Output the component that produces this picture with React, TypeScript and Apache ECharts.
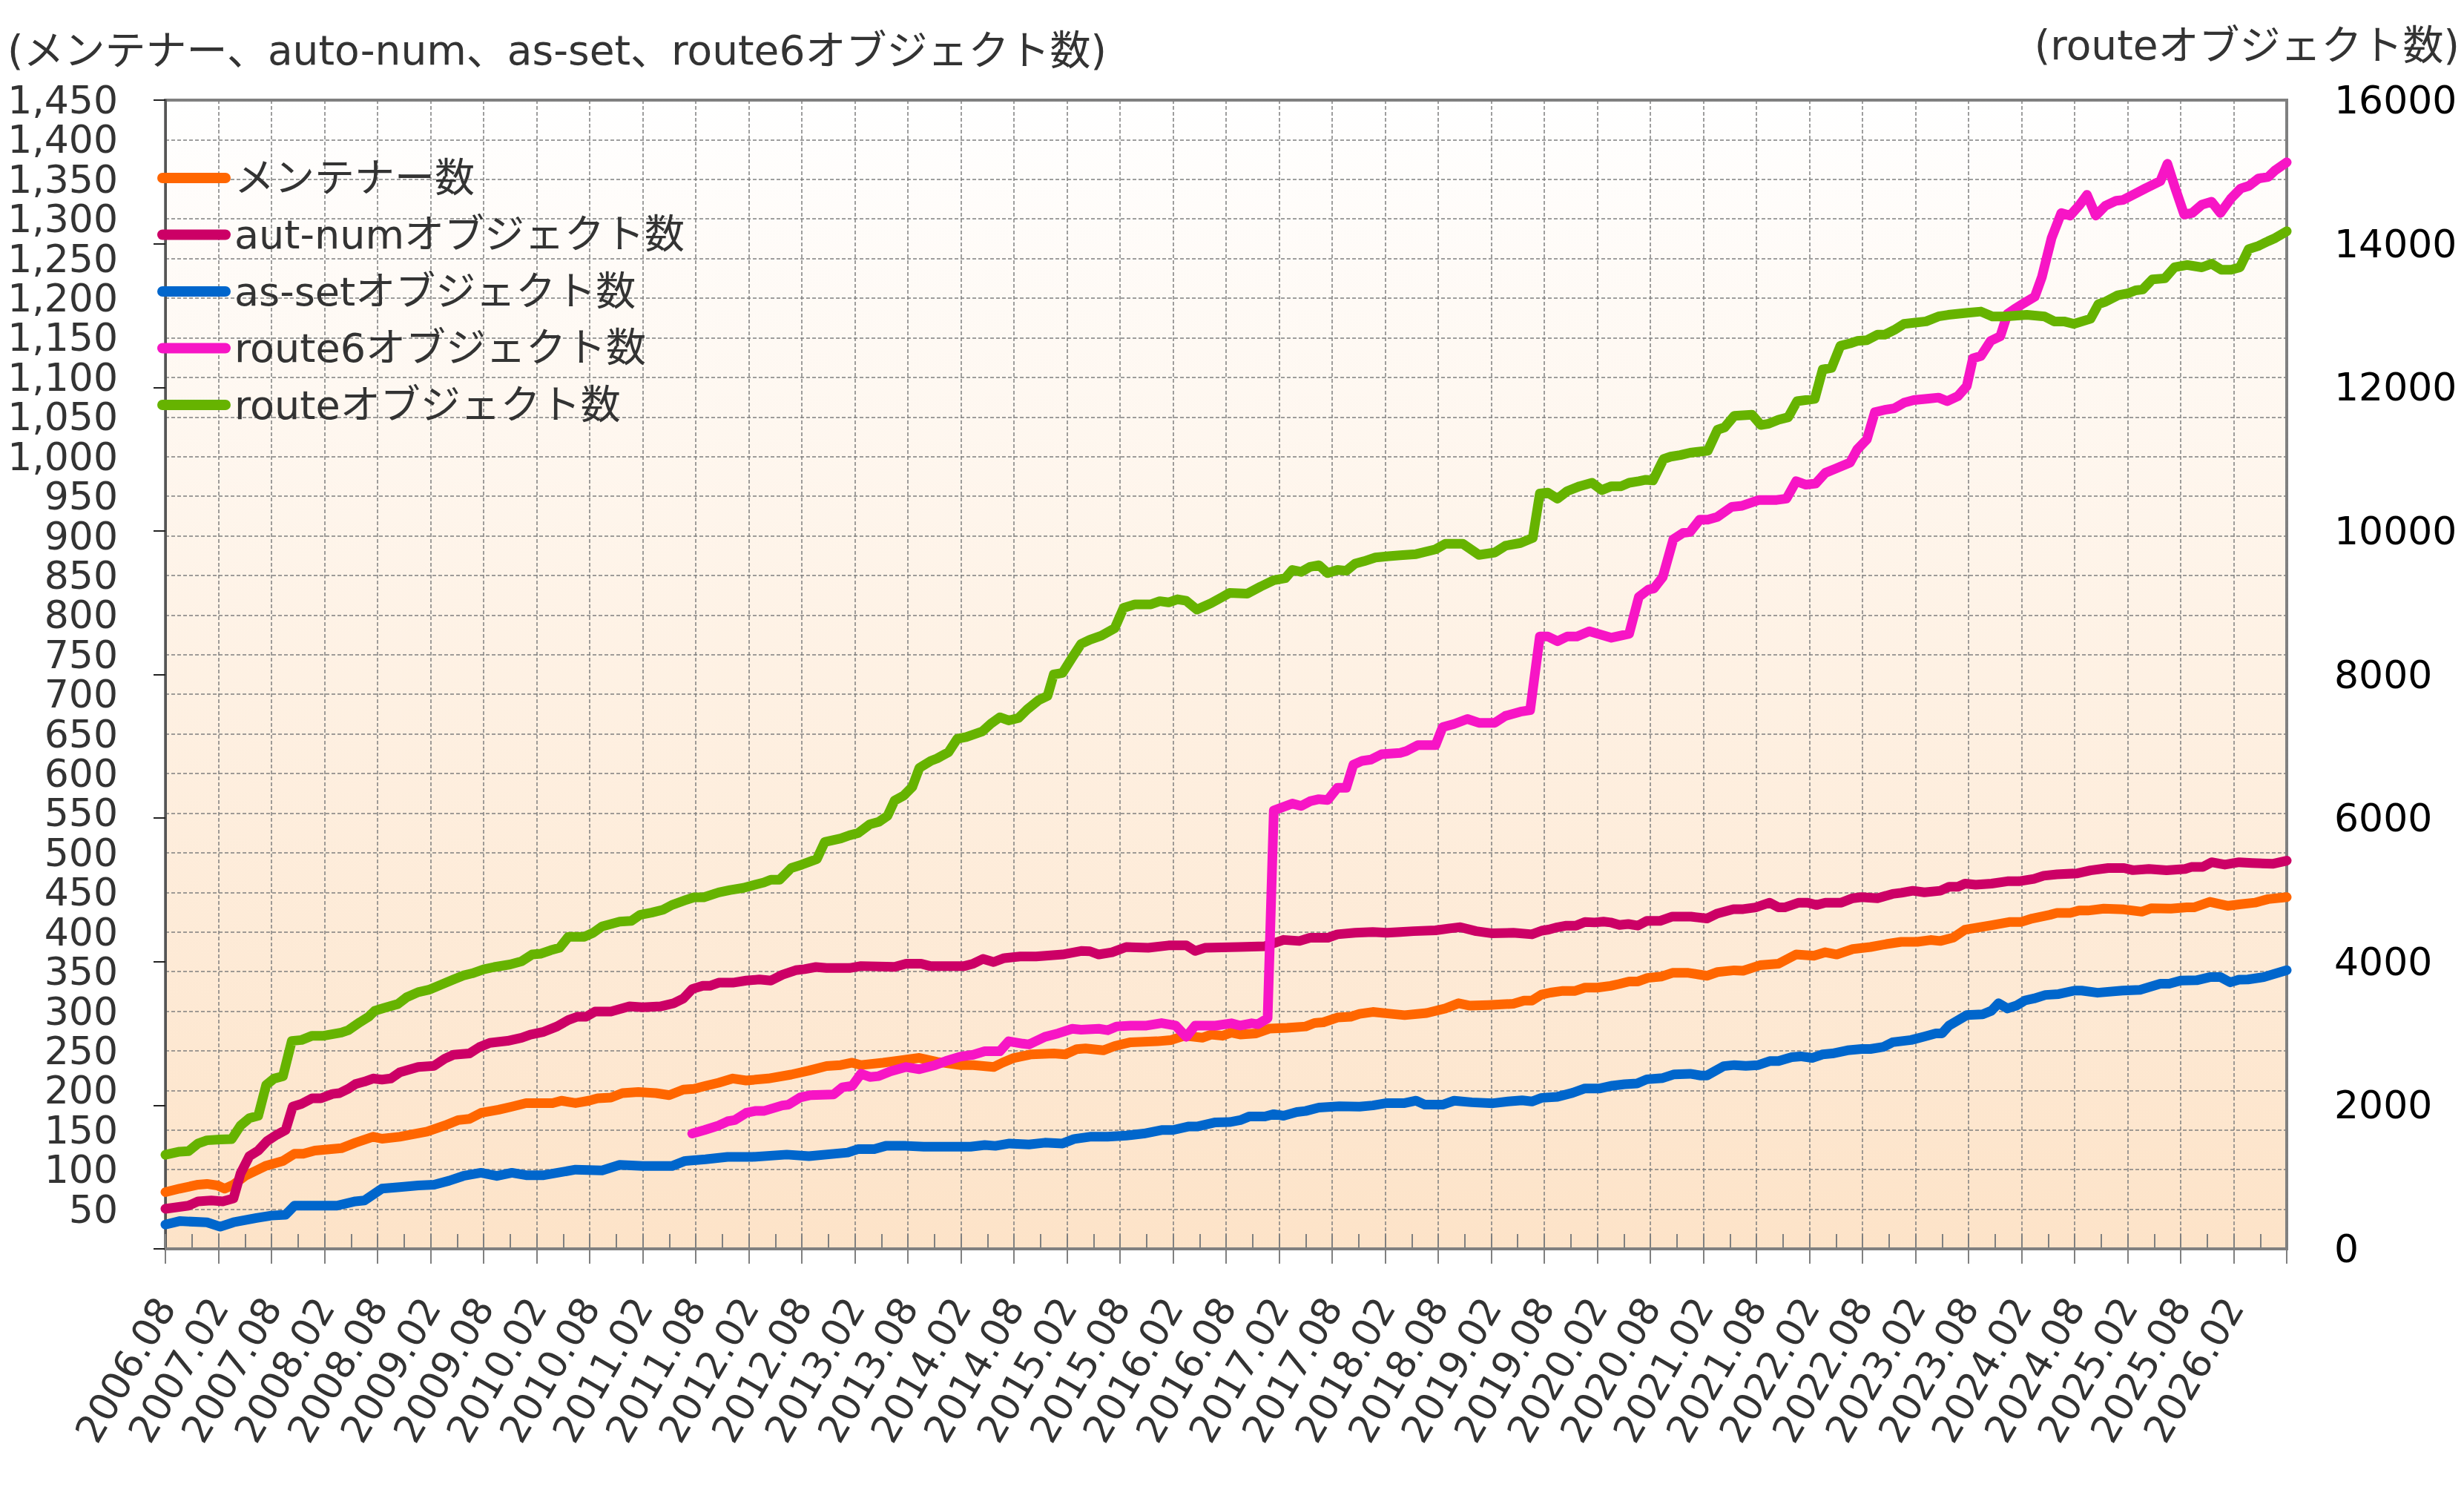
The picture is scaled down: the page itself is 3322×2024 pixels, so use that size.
import React, { useEffect, useRef } from 'react';
import * as echarts from 'echarts';

// x positions are months since 2006.08 (0 = 2006.08, 240 = 2026.08)
const xTickLabels = [
  '2006.08', '2007.02', '2007.08', '2008.02', '2008.08', '2009.02', '2009.08', '2010.02',
  '2010.08', '2011.02', '2011.08', '2012.02', '2012.08', '2013.02', '2013.08', '2014.02',
  '2014.08', '2015.02', '2015.08', '2016.02', '2016.08', '2017.02', '2017.08', '2018.02',
  '2018.08', '2019.02', '2019.08', '2020.02', '2020.08', '2021.02', '2021.08', '2022.02',
  '2022.08', '2023.02', '2023.08', '2024.02', '2024.08', '2025.02', '2025.08', '2026.02',
];

const seriesNames = ['メンテナー数', 'aut-numオブジェクト数', 'as-setオブジェクト数', 'route6オブジェクト数', 'routeオブジェクト数'];
const seriesColors = ['#FF6600', '#CC0066', '#0066CC', '#F715C5', '#66B300'];

const maintainer: [number, number][] = [
  [0, 71.6], [1.6, 76], [3.7, 81], [4.7, 82], [5.9, 80], [6.7, 76], [7.7, 81], [9, 92], [10.3, 99], [11.3, 104.5],
  [13.3, 111], [14.6, 120], [15.6, 120], [16.9, 124], [19.9, 127], [21.5, 134], [23.5, 141.5], [24.5, 139], [26.5, 141.5],
  [29.6, 148], [31.6, 155.7], [33.1, 162.5], [34.4, 164], [35.7, 171.6], [37.7, 175.6], [39.2, 179.5], [40.8, 184],
  [43.8, 184], [44.8, 187], [46.4, 184], [47.9, 187], [48.9, 190], [50.4, 191], [51.7, 196.6], [53.5, 198], [55.5, 196.6],
  [57, 194], [58.6, 201], [59.8, 202], [61.1, 205.7], [62.6, 209.7], [64.2, 215], [65.7, 212.5], [68.2, 215], [70.8, 220],
  [72.8, 225], [74.8, 230.7], [76.4, 232], [77.7, 235], [78.7, 232], [81.2, 235], [82.5, 237], [85.3, 241], [87.3, 236],
  [89.9, 232], [91.4, 232], [93.7, 229.5], [94.7, 235], [96, 241], [98, 245.5], [100.5, 246.6], [101.8, 245.5], [103.1, 252],
  [104.1, 253], [106.1, 250.6], [107.4, 256], [109.2, 260.8], [112.2, 262], [113.8, 263.6], [115.3, 269], [117.3, 266.5],
  [118.3, 270.5], [119.6, 269], [120.6, 273], [121.6, 270.5], [123.4, 272], [124.9, 278], [126.9, 279], [129, 280.7],
  [130, 285], [131, 286], [132.6, 292], [134.1, 293], [135.1, 296.6], [136.6, 299], [138.7, 296.6], [140.2, 295],
  [142.7, 297.7], [144.8, 303.4], [146.3, 310], [147.6, 307], [149.7, 307.8], [152.5, 309.4], [153.7, 313.4], [154.6, 313.4],
  [155.7, 321], [156.7, 323.4], [158.1, 325.6], [159.5, 325.6], [160.6, 329.7], [162, 329.7], [163.5, 332], [164.5, 334.4],
  [165.6, 337.5], [166.6, 337.5], [167.7, 342], [169.3, 343.8], [170.5, 348.4], [172.3, 348.4], [174.4, 344.7], [175.6, 349.4],
  [177.5, 351.6], [178.5, 351], [180.4, 358], [182.5, 360], [184.5, 371.6], [186.5, 370], [187.8, 374.4], [189.1, 371.6],
  [190.9, 378.4], [192.9, 381], [194.7, 384.7], [196.4, 387.5], [198.2, 387.5], [199.7, 389.8], [200.8, 388.6], [202.3, 393],
  [203.6, 402.8], [205.1, 405.7], [206.6, 408.5], [208.6, 412.5], [209.9, 412.5], [211.2, 417], [213.2, 421.6], [214, 424],
  [215.5, 424], [216.5, 427], [217.5, 427], [219.3, 429.5], [221.6, 428.4], [223.6, 425.6], [224.7, 430], [226.9, 429.5],
  [228.7, 431], [229.5, 431], [231.3, 438], [233.3, 433], [234.8, 435], [236.4, 437], [237.9, 441.5], [240, 444],
];

const autNum: [number, number][] = [
  [0, 50.6], [2.6, 54.5], [3.7, 60], [5.2, 61], [6.5, 60], [7.7, 63.6], [8.5, 95], [9.5, 117], [10.5, 124], [11.5, 136],
  [12.6, 144], [13.6, 150], [14.4, 179.5], [15.4, 183], [16.6, 190], [17.6, 190], [18.9, 195.5], [19.7, 196.6], [20.7, 202],
  [21.5, 208], [22.5, 211], [23.5, 215], [24.5, 213.6], [25.5, 215], [26.5, 222.7], [28.6, 229.5], [30.4, 231], [31.6, 240],
  [32.6, 245], [34.4, 246.6], [35.5, 254.5], [36.7, 260], [38.7, 262.5], [40.3, 266.5], [41.3, 270.5], [42.8, 274],
  [44.3, 280.7], [45.6, 289], [46.6, 293], [47.6, 293], [48.6, 299.5], [50.4, 299.5], [52.5, 306], [54, 305], [56, 306],
  [57.5, 310], [58.6, 316], [59.6, 328], [60.8, 332], [61.6, 332], [62.6, 336], [64.2, 336], [65.7, 338.6], [67.2, 340],
  [68.5, 338.6], [69.8, 346], [71.3, 351.7], [72.3, 353], [73.6, 355.7], [74.8, 354.5], [77.4, 354.5], [78.7, 357],
  [82.5, 356], [83.8, 360], [85.5, 360], [86.5, 357], [90.4, 357], [91.4, 360], [92.5, 366], [93.7, 362], [94.9, 367],
  [96.7, 369], [98.5, 369], [101.5, 371.6], [103.6, 376], [104.6, 375.6], [105.6, 371.6], [107.1, 374.4], [108.7, 381],
  [111.2, 380], [113.5, 383], [115.5, 383], [116.5, 376], [117.6, 380], [121.4, 381], [124.4, 382], [126.5, 390],
  [128.3, 388.6], [129.5, 392.6], [131.5, 392.6], [132.6, 397], [134.6, 399], [136.6, 400], [138.2, 399], [139.7, 400],
  [141.2, 401], [143.7, 402], [145.3, 404.5], [146.5, 406], [148.3, 401], [150, 398.4], [152.5, 399], [154.6, 397],
  [155.7, 401.6], [156.5, 403], [157.5, 406], [158.5, 408], [159.6, 408], [160.6, 412.5], [161.7, 412], [162.7, 413],
  [163.5, 412], [164.5, 408.8], [165.5, 410], [166.6, 408], [167.6, 414], [169.1, 414], [170.5, 419.4], [172.6, 419.4],
  [174.4, 417], [175.6, 423.4], [177.4, 428.8], [178.5, 428.8], [179.9, 431], [181.5, 437], [182.5, 431], [183.2, 431],
  [184.8, 437], [185.8, 437], [186.8, 434], [187.8, 437], [189.6, 437], [190.9, 442.6], [191.9, 444], [193.7, 442.6],
  [195.4, 448], [196.4, 449.4], [197.7, 452], [199, 450], [200.8, 452], [201.8, 457], [202.8, 457], [203.6, 461],
  [204.8, 459.7], [206.6, 461], [208.4, 464], [209.7, 464], [211.4, 467], [212.5, 471], [214, 472.7], [216.3, 474],
  [217.8, 477.8], [219.8, 480.7], [221.6, 480.7], [222.6, 478], [224.4, 479.5], [226.4, 477.8], [228.5, 479.5], [229.2, 482],
  [230.5, 482], [231.5, 488], [233, 485], [234.6, 488], [236.1, 487], [238.4, 486], [240, 490],
];

const asSet: [number, number][] = [
  [0, 30.7], [1.6, 35], [4.7, 33.5], [6.2, 28], [7.7, 33.5], [10.3, 39], [12, 42], [13.6, 43], [14.6, 54.5], [19.4, 54.5],
  [21.5, 60], [22.5, 61], [24.5, 76], [26.5, 78], [28.6, 80], [30.4, 81], [32.1, 86], [33.7, 92], [35.7, 96], [37.5, 92],
  [39.2, 96], [40.8, 93], [42.8, 93], [46.4, 100], [49.4, 99], [51.4, 106], [54, 104.5], [57.3, 104.5], [58.8, 111],
  [61.1, 113], [63.6, 116], [66.4, 116], [70.3, 119], [72.8, 117], [77.2, 121.6], [78.4, 126], [80.2, 126], [81.5, 130],
  [83.8, 130], [85.8, 129], [91.1, 129], [92.7, 131], [93.9, 130], [95.5, 133], [97.7, 131.8], [99.5, 134], [101.5, 133],
  [102.8, 138.6], [104.6, 141.5], [106.6, 141.5], [108.7, 143], [110.7, 145.5], [112.7, 150], [114, 150], [115.8, 154.5],
  [116.8, 154.5], [118.8, 159.7], [120.4, 160], [121.6, 162.5], [122.6, 167], [124.4, 167], [125.4, 170], [126.5, 168],
  [128, 172.7], [129, 174], [130.5, 178.4], [132.8, 180], [135.1, 179.5], [136.6, 181], [138.2, 184], [140.2, 184],
  [141.5, 187], [142.5, 182], [144.5, 182], [145.8, 187], [147.8, 185], [150.2, 183.8], [151.9, 186], [153.5, 187.5],
  [154.6, 186], [155.7, 190.6], [157.5, 192], [159.2, 196.9], [160.6, 202.5], [162.3, 202.5], [163.7, 206], [165.1, 207.8],
  [166.5, 208.8], [167.6, 214], [169.4, 215.6], [170.7, 220.3], [172.5, 221], [173.7, 218.8], [174.4, 218.8], [176.3, 230.6],
  [177.5, 232], [178.8, 231], [180.2, 232], [181.5, 237], [182.5, 237], [184, 242], [185, 243], [186.3, 241], [187.5, 245.5],
  [188.6, 246.6], [190.3, 250.6], [191.9, 252.3], [192.9, 252.3], [194.4, 255], [195.4, 260.8], [197.5, 263.6], [199, 268],
  [200.3, 272], [201, 272], [201.8, 281.8], [203.8, 295], [205.6, 296], [206.6, 300.6], [207.4, 310], [208.4, 303.4],
  [209.4, 307], [210.4, 313.6], [211.4, 316], [212.7, 320.5], [214.2, 321.6], [216, 326], [216.8, 326], [218.6, 323.3],
  [221.4, 326], [223.4, 327], [225.7, 334.7], [226.7, 334.7], [228, 338.6], [229.8, 339], [231.3, 343], [232.5, 343],
  [233.6, 336.4], [234.6, 339.8], [235.6, 340], [237.4, 343], [240, 351.7],
];

const route6: [number, number][] = [
  [59.6, 145.5], [61, 150], [62.6, 155.7], [63.6, 161], [64.4, 162.5], [65.7, 171.6], [66.7, 174], [67.7, 174], [69.8, 181],
  [70.5, 182], [71.8, 191], [73, 194], [75.6, 195], [76.6, 204], [77.7, 205.7], [78.7, 221], [79.7, 217], [80.7, 218],
  [82, 224], [83.8, 229.5], [85.3, 226.7], [87.1, 232], [88.3, 237], [89.9, 242.6], [91.4, 245], [92.7, 249.4], [94.4, 249.4],
  [95.4, 262], [97, 259], [97.7, 258], [99.5, 267.6], [101, 272], [102.6, 277.8], [103.6, 276.7], [105.6, 277.8], [106.6, 276],
  [107.6, 280.7], [109.2, 281.8], [111, 281.8], [112.7, 285], [114.3, 281.8], [115.5, 267.6], [116.5, 281.8], [118.8, 281.8],
  [120.6, 284.7], [121.6, 281.8], [122.9, 284.7], [123.6, 283.5], [124.7, 291], [125.4, 553.4], [127.5, 562], [128.5, 559],
  [129.5, 565], [130.5, 567.6], [131.5, 566.5], [132.6, 582], [133.6, 582], [134.4, 611], [135.4, 616], [136.4, 617.6],
  [137.6, 624.4], [139.7, 626], [140.4, 628.4], [141.7, 635.8], [143.7, 635.8], [144.5, 658.5], [145.8, 662.5], [147.3, 668.8],
  [148.6, 664], [150.4, 664], [151.6, 672.7], [153.3, 678], [154.4, 680], [155.5, 773], [156.4, 773], [157.5, 767],
  [158.6, 773], [159.7, 773], [161.1, 779.5], [163.6, 771.4], [165.6, 776.4], [166.7, 823], [167.8, 832.3], [168.4, 833.5],
  [169.4, 847.8], [170.6, 895.7], [171.7, 903.7], [172.5, 905], [173.6, 920.5], [174.5, 920.5], [175.6, 924], [177.2, 936.6],
  [178.4, 938], [180.3, 945.3], [182.3, 945.3], [183.4, 947], [184.5, 969], [185.6, 964.6], [186.7, 966], [187.8, 979.5],
  [188.9, 984.5], [190.6, 992.5], [191.4, 1009], [192.5, 1021.7], [193.4, 1056], [194.5, 1059], [195.6, 1061], [196.7, 1068],
  [197.8, 1071.4], [199.5, 1073.3], [200.6, 1074.5], [201.6, 1070], [202.8, 1076.4], [203.8, 1089], [204.5, 1124],
  [205.4, 1127], [206.5, 1146], [207.6, 1152], [208.4, 1180], [209.2, 1186.3], [210.1, 1192.5], [211.5, 1202], [212.3, 1226.7],
  [213.4, 1276], [214.5, 1307.5], [215.5, 1304.3], [216.5, 1316.8], [217.4, 1330.4], [218.4, 1304.3], [219.5, 1316.8],
  [220.7, 1323], [221.5, 1324], [222.6, 1330.4], [224, 1338.5], [225.7, 1347.8], [226.5, 1369.6], [227.3, 1341.6],
  [228.4, 1305.6], [229.3, 1307.5], [230.4, 1318], [231.5, 1321.7], [232.5, 1307.5], [233.7, 1326], [234.8, 1338.5],
  [235.7, 1341.6], [236.8, 1351], [237.9, 1353], [238.7, 1361.5], [240, 1371.5],
];

// route objects (right axis)
const route: [number, number][] = [
  [0, 1310], [1.6, 1354], [2.6, 1360], [3.7, 1468], [4.7, 1512], [6.2, 1523], [7.5, 1529], [8.5, 1718], [9.5, 1821],
  [10.5, 1854], [11.4, 2282], [12.3, 2372], [13.3, 2405], [14.3, 2896], [15.4, 2909], [16.6, 2968], [17.9, 2968], [19.9, 3012],
  [20.7, 3045], [22, 3156], [23, 3233], [23.7, 3317], [25, 3365], [26.3, 3410], [27.3, 3504], [28.6, 3575], [29.8, 3608],
  [31.1, 3674], [32.6, 3752], [33.7, 3807], [34.7, 3837], [36, 3893], [37.2, 3925], [39, 3961], [40.3, 4005], [41.5, 4100],
  [42.5, 4112], [43.6, 4160], [44.6, 4193], [45.6, 4347], [47.4, 4347], [48.4, 4403], [49.4, 4491], [50.4, 4524], [51.4, 4557],
  [52.7, 4568], [53.7, 4652], [55, 4683], [56.3, 4723], [57.3, 4789], [58.8, 4855], [59.8, 4896], [60.9, 4896], [62.6, 4965],
  [63.9, 4998], [65.4, 5028], [66.7, 5072], [67.7, 5103], [68.5, 5142], [69.5, 5142], [70.8, 5304], [72, 5351], [73.7, 5429],
  [74.6, 5667], [76.4, 5716], [77.4, 5760], [78.4, 5793], [79.7, 5914], [80.7, 5947], [81.7, 6031], [82.5, 6245], [83.5, 6311],
  [84.5, 6433], [85.3, 6698], [86.6, 6797], [87.3, 6830], [88.6, 6918], [89.6, 7106], [90.6, 7128], [92.4, 7205], [93.4, 7316],
  [94.4, 7404], [95.4, 7360], [96.5, 7393], [97.5, 7514], [98.8, 7642], [99.8, 7702], [100.5, 8000], [101.5, 8022],
  [102.6, 8238], [103.6, 8426], [104.6, 8485], [105.9, 8540], [107.4, 8645], [108.4, 8927], [109.7, 8977], [111.5, 8977],
  [112.5, 9021], [113.5, 9004], [114.5, 9048], [115.5, 9026], [116.7, 8904], [118.3, 8993], [119.6, 9081], [120.4, 9136],
  [122.4, 9125], [123.9, 9224], [125.4, 9313], [126.7, 9341], [127.5, 9456], [128.5, 9429], [129.5, 9500], [130.5, 9522],
  [131.5, 9412], [132.6, 9456], [133.6, 9445], [134.6, 9544], [135.6, 9577], [136.9, 9629], [138.4, 9648], [139.7, 9661],
  [141.5, 9677], [143.7, 9743], [144.8, 9820], [146.8, 9820], [148.6, 9666], [150.4, 9699], [151.6, 9793], [153.3, 9831],
  [154.7, 9903], [155.5, 10520], [156.4, 10534], [157.5, 10449], [158.6, 10554], [160, 10622], [161.4, 10670], [162.5, 10568],
  [163.6, 10622], [164.7, 10622], [165.6, 10670], [166.7, 10692], [167.5, 10712], [168.3, 10703], [169.5, 11001],
  [170.3, 11034], [171.4, 11056], [172.5, 11089], [174.5, 11117], [175.6, 11409], [176.4, 11442], [177.5, 11602],
  [179.5, 11617], [180.5, 11475], [181.4, 11493], [182.5, 11548], [183.6, 11583], [184.6, 11806], [186.6, 11839],
  [187.5, 12248], [188.5, 12270], [189.5, 12577], [190.6, 12612], [191.4, 12645], [192.5, 12656], [193.7, 12733],
  [194.5, 12733], [195.6, 12799], [196.7, 12884], [197.8, 12899], [199.2, 12918], [200.6, 12987], [201.7, 13009],
  [203.7, 13035], [205.4, 13055], [206.7, 12987], [208.1, 12987], [210.6, 13009], [212.6, 12987], [213.7, 12918],
  [214.8, 12918], [215.9, 12884], [217.8, 12954], [218.7, 13158], [219.5, 13192], [220.9, 13282], [222, 13307],
  [222.9, 13351], [223.7, 13362], [224.8, 13502], [226.2, 13517], [227.3, 13671], [228.7, 13704], [230.4, 13671],
  [231.5, 13721], [232.6, 13638], [233.7, 13638], [234.7, 13671], [235.7, 13925], [236.8, 13969], [237.9, 14035],
  [238.7, 14079], [240, 14173],
];

const leftAxisTitle = '(メンテナー、auto-num、as-set、route6オブジェクト数)';
const rightAxisTitle = '(routeオブジェクト数)';

const FONT = '"DejaVu Sans", "Noto Sans CJK JP", sans-serif';
const TXT = '#333333';
const GRIDLINE = { color: '#7f7f7f', width: 1.5, type: [5, 3] as number[] };

function withComma(v: number): string {
  if (v >= 1000) {
    const r = v % 1000;
    return Math.floor(v / 1000) + ',' + String(r).padStart(3, '0');
  }
  return String(v);
}

export default function App() {
  const ref = useRef<HTMLDivElement>(null);

  useEffect(() => {
    document.body.style.margin = '0';
    if (!ref.current) return;
    const chart = echarts.init(ref.current, undefined, { renderer: 'svg' });

    const allData = [maintainer, autNum, asSet, route6, route];
    const axisIdx = [0, 0, 0, 0, 1];

    const option: any = {
      animation: false,
      backgroundColor: '#ffffff',
      textStyle: { fontFamily: FONT },
      grid: {
        left: 223,
        right: 239,
        top: 135,
        bottom: 340,
        show: true,
        borderColor: '#808080',
        borderWidth: 4,
        backgroundColor: new echarts.graphic.LinearGradient(0, 0, 0, 1, [
          { offset: 0, color: '#ffffff' },
          { offset: 1, color: '#fde3c8' },
        ]),
      },
      legend: {
        orient: 'vertical',
        left: 212,
        top: 210,
        padding: 0,
        itemGap: 16.5,
        itemWidth: 99,
        itemHeight: 14,
        icon: 'path://M7,0 L92,0 A7,7 0 0 1 92,14 L7,14 A7,7 0 0 1 7,0 Z',
        selectedMode: false,
        textStyle: { fontSize: 54, color: TXT, fontFamily: FONT, lineHeight: 60 },
        data: seriesNames,
      },
      graphic: [
        {
          type: 'text',
          x: 10,
          y: 68,
          style: {
            text: leftAxisTitle,
            fontSize: 55,
            fontFamily: FONT,
            fill: TXT,
            textAlign: 'left',
            textVerticalAlign: 'middle',
          },
        },
        {
          type: 'text',
          x: 3316,
          y: 61,
          style: {
            text: rightAxisTitle,
            fontSize: 55,
            fontFamily: FONT,
            fill: TXT,
            textAlign: 'right',
            textVerticalAlign: 'middle',
          },
        },
      ],
      xAxis: [
        {
          type: 'value',
          min: 0,
          max: 240,
          interval: 6,
          position: 'bottom',
          axisLine: { show: true, onZero: false, lineStyle: { color: '#808080', width: 4 } },
          axisTick: { show: true, inside: false, length: 20, lineStyle: { color: '#808080', width: 2 } },
          axisLabel: {
            rotate: 60,
            margin: 70,
            fontSize: 52,
            color: TXT,
            fontFamily: FONT,
            showMinLabel: true,
            showMaxLabel: true,
            formatter: (v: number) => xTickLabels[Math.round(v / 6)] ?? '',
          },
          splitLine: { show: true, lineStyle: GRIDLINE },
        },
        {
          type: 'value',
          min: 0,
          max: 240,
          interval: 3,
          position: 'bottom',
          axisLine: { show: false, onZero: false },
          axisTick: { show: true, inside: true, length: 20, lineStyle: { color: '#808080', width: 2 } },
          axisLabel: { show: false },
          splitLine: { show: false },
        },
      ],
      yAxis: [
        {
          type: 'value',
          min: 0,
          max: 1450,
          interval: 50,
          position: 'left',
          axisLine: { show: true, lineStyle: { color: '#808080', width: 4 } },
          axisTick: { show: false },
          axisLabel: {
            fontSize: 52,
            color: TXT,
            fontFamily: FONT,
            margin: 64,
            padding: [0, 0, 14, 0],
            formatter: (v: number) => (v === 0 ? '' : withComma(v)),
          },
          splitLine: { show: true, lineStyle: GRIDLINE },
        },
        {
          type: 'value',
          min: 0,
          max: 16000,
          interval: 2000,
          position: 'right',
          axisLine: { show: true, lineStyle: { color: '#555555', width: 3 } },
          axisTick: { show: true, inside: true, length: 16, lineStyle: { color: '#222222', width: 2 } },
          axisLabel: {
            fontSize: 52,
            color: '#000000',
            fontFamily: FONT,
            margin: 64,
            padding: [0, 0, 14, 0],
            formatter: (v: number) => String(v),
          },
          splitLine: { show: false },
        },
      ],
      series: seriesNames.map((name, i) => ({
        type: 'line',
        name,
        xAxisIndex: 0,
        yAxisIndex: axisIdx[i],
        data: allData[i],
        showSymbol: false,
        symbol: 'none',
        silent: true,
        z: 2 + i,
        color: seriesColors[i],
        itemStyle: { color: seriesColors[i] },
        lineStyle: { width: 13, color: seriesColors[i], cap: 'round', join: 'round' },
      })),
    };

    chart.setOption(option);
    return () => chart.dispose();
  }, []);

  return (
    <div
      ref={ref}
      style={{ position: 'fixed', left: 0, top: 0, width: 3322, height: 2024, background: '#ffffff' }}
    />
  );
}
